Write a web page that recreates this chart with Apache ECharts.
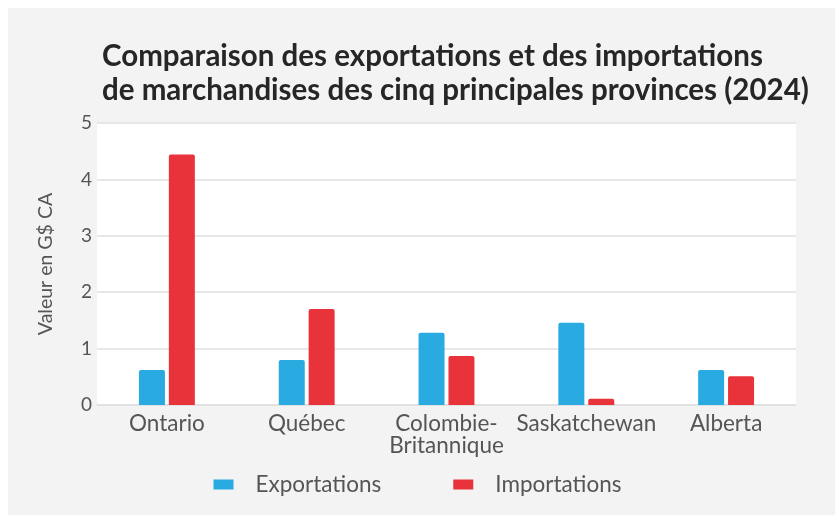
<!DOCTYPE html>
<html>
<head>
<meta charset="utf-8">
<script src="https://cdn.jsdelivr.net/npm/echarts@6/dist/echarts.min.js"></script>
<style>
  html, body { margin: 0; padding: 0; background: #fff; }
  #chart { width: 835px; height: 515px; }
</style>
</head>
<body>
<div id="chart"></div>
<script>
  const provinces = ['Ontario', 'Québec', 'Colombie-\nBritannique', 'Saskatchewan', 'Alberta'];
  const exportations = [0.62, 0.80, 1.28, 1.46, 0.62];
  const importations = [4.44, 1.70, 0.87, 0.11, 0.51];
  const yTicks = { min: 0, max: 5, interval: 1 };

  const chart = echarts.init(document.getElementById('chart'));
  const labelFont = 'Lato, "Open Sans", sans-serif';

  const option = {
    backgroundColor: '#fff',
    graphic: [
      {
        type: 'rect',
        silent: true,
        z: -10,
        shape: { x: 8, y: 8, width: 827, height: 507 },
        style: { fill: '#f2f3f2' }
      }
    ],
    title: {
      text: 'Comparaison des exportations et des importations\nde marchandises des cinq principales provinces (2024)',
      left: 97,
      top: 34,
      textStyle: {
        fontFamily: labelFont,
        fontWeight: 'bold',
        fontSize: 29.5,
        lineHeight: 34,
        color: '#262626'
      }
    },
    legend: {
      bottom: 14,
      left: 'center',
      itemWidth: 20,
      itemHeight: 10,
      itemGap: 72,
      icon: 'rect',
      textStyle: {
        fontFamily: labelFont,
        fontSize: 22.5,
        color: '#555',
        padding: [0, 0, 0, 17]
      },
      data: ['Exportations', 'Importations']
    },
    grid: {
      left: 97,
      right: 39,
      top: 123,
      bottom: 110,
      show: true,
      backgroundColor: '#fff',
      borderWidth: 0
    },
    xAxis: {
      type: 'category',
      data: provinces,
      axisLine: { show: true, lineStyle: { color: '#e0e0e0', width: 1.5 } },
      axisTick: { show: false },
      axisLabel: {
        fontFamily: labelFont,
        fontSize: 22.5,
        color: '#555',
        lineHeight: 22,
        margin: 8,
        interval: 0
      }
    },
    yAxis: {
      type: 'value',
      min: yTicks.min,
      max: yTicks.max,
      interval: yTicks.interval,
      name: 'Valeur en G$ CA',
      nameLocation: 'middle',
      nameGap: 41,
      nameTextStyle: {
        fontFamily: labelFont,
        fontSize: 19.5,
        color: '#555'
      },
      axisLine: { show: false },
      axisTick: { show: false },
      axisLabel: {
        fontFamily: labelFont,
        fontSize: 19,
        color: '#555',
        margin: 5
      },
      splitLine: { lineStyle: { color: '#e0e0e0', width: 1.5 } }
    },
    series: [
      {
        name: 'Exportations',
        type: 'bar',
        barWidth: 26,
        barGap: '15%',
        data: exportations,
        itemStyle: { color: '#29abe2', borderRadius: [2, 2, 0, 0] }
      },
      {
        name: 'Importations',
        type: 'bar',
        barWidth: 26,
        barGap: '15%',
        data: importations,
        itemStyle: { color: '#e8333a', borderRadius: [2, 2, 0, 0] }
      }
    ]
  };

  chart.setOption(option);
</script>
</body>
</html>
